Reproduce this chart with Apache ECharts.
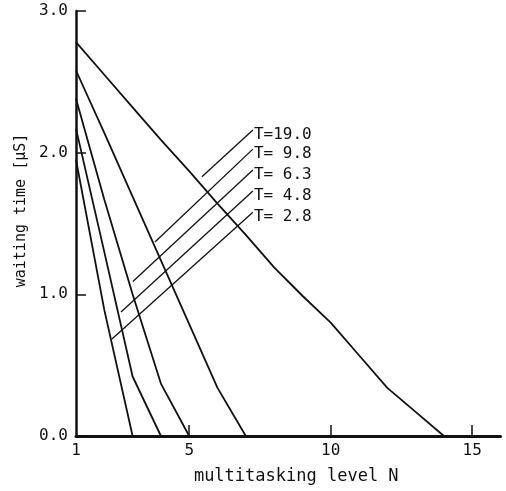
<!DOCTYPE html>
<html>
<head>
<meta charset="utf-8">
<script src="https://cdn.jsdelivr.net/npm/echarts@6/dist/echarts.min.js"></script>
<style>
html, body { margin: 0; padding: 0; background: #fff; }
#chart { width: 506px; height: 491px; }
</style>
</head>
<body>
<div id="chart"></div>
<script>
// waiting time vs multitasking level, one curve per T
var levels = [1, 2, 3, 4, 5, 6, 7, 8, 9, 10, 11, 12, 13, 14];
var waitT190 = [2.78, 2.55, 2.32, 2.09, 1.87, 1.64, 1.42, 1.19, 0.99, 0.80, 0.57, 0.34, 0.17, 0];
var waitT98 = [2.58, 2.14, 1.69, 1.24, 0.79, 0.34, 0];
var waitT63 = [2.38, 1.67, 1.00, 0.37, 0];
var waitT48 = [2.17, 1.30, 0.42, 0];
var waitT28 = [1.95, 0.89, 0];

var curveNames = ['T=19.0', 'T= 9.8', 'T= 6.3', 'T= 4.8', 'T= 2.8'];
var curveValues = [waitT190, waitT98, waitT63, waitT48, waitT28];

// leader lines from curves up to labels: [N, wait]
var leaderEnd = [[5.45, 1.83], [3.79, 1.37], [3.01, 1.09], [2.59, 0.875], [2.27, 0.685]];
var leaderTop = [[7.25, 2.16], [7.25, 2.025], [7.25, 1.877], [7.25, 1.729], [7.25, 1.58]];

var xLabelValues = [1, 5, 10, 15];
var xTickValues = [5, 10, 15];

var font = 'DejaVu Sans Mono';
var ink = '#111';

var series = [];
curveValues.forEach(function (vals, i) {
  var pts = [];
  for (var k = 0; k < vals.length; k++) {
    pts.push([levels[k], vals[k]]);
  }
  series.push({
    name: curveNames[i],
    type: 'line',
    data: pts,
    symbol: 'none',
    lineStyle: { color: ink, width: 1.8 },
    z: 3
  });
});
leaderTop.forEach(function (top, i) {
  series.push({
    type: 'line',
    data: [leaderEnd[i], top],
    symbol: 'none',
    lineStyle: { color: ink, width: 1.3 },
    endLabel: {
      show: true,
      distance: 1,
      offset: [0, 5],
      formatter: curveNames[i],
      fontFamily: font,
      fontSize: 16,
      color: ink
    },
    z: 2
  });
});

var chart = echarts.init(document.getElementById('chart'));
chart.setOption({
  animation: false,
  backgroundColor: '#fff',
  grid: { left: 76, top: 11, width: 424.5, height: 425 },
  xAxis: {
    type: 'value',
    min: 1,
    max: 16,
    name: 'multitasking level N',
    nameLocation: 'middle',
    nameGap: 32,
    nameTextStyle: { fontFamily: font, fontSize: 17, color: ink, padding: [0, 0, 0, 16] },
    axisLine: { lineStyle: { color: ink, width: 3 } },
    axisTick: { show: true, inside: true, length: 11, customValues: xTickValues, lineStyle: { color: ink, width: 1.5 } },
    axisLabel: { customValues: xLabelValues, margin: 7, fontFamily: font, fontSize: 16, color: ink },
    splitLine: { show: false }
  },
  yAxis: {
    type: 'value',
    min: 0,
    max: 3,
    interval: 1,
    name: 'waiting time [μS]',
    nameLocation: 'middle',
    nameGap: 47,
    nameTextStyle: { fontFamily: font, fontSize: 15, color: ink, padding: [0, 0, 0, 26] },
    axisLine: { show: true, lineStyle: { color: ink, width: 2.5 } },
    axisTick: { show: true, inside: true, length: 10, lineStyle: { color: ink, width: 1.5 } },
    axisLabel: {
      margin: 8,
      fontFamily: font,
      fontSize: 16,
      color: ink,
      formatter: function (v) { return v.toFixed(1); }
    },
    splitLine: { show: false }
  },
  series: series
});
</script>
</body>
</html>
